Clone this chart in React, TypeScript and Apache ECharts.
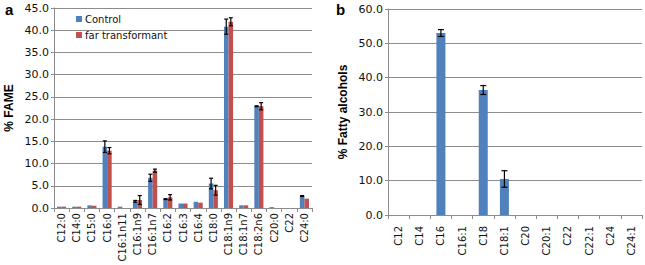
import React, { useEffect, useRef } from "react";
import * as echarts from "echarts";

const catsA = ["C12:0","C14:0","C15:0","C16:0","C16:1n11","C16:1n9","C16:1n7","C16:2","C16:3","C16:4","C18:0","C18:1n9","C18:1n7","C18:2n6","C20:0","C22","C24:0"];
const controlA = [0.3,0.3,0.6,13.8,0.3,1.5,6.8,2.0,1.0,1.4,5.5,40.8,0.6,22.9,0.2,0,2.7];
const controlErrA = [0,0,0,1.3,0,0.2,0.8,0.1,0,0,1.2,1.7,0,0.1,0,0,0.1];
const farA = [0.3,0.3,0.5,12.9,0,1.8,8.4,2.4,1.0,1.2,4.0,41.9,0.6,22.9,0,0,2.1];
const farErrA = [0,0,0,0.7,0,1.0,0.35,0.6,0,0,1.1,0.9,0,0.8,0,0,0];

const catsB = ["C12","C14","C16","C16:1","C18","C18:1","C20","C20:1","C22","C22:1","C24","C24:1"];
const alcB = [0,0,53.0,0,36.4,10.5,0,0,0,0,0,0];
const alcErrB = [0,0,1.0,0,1.3,2.4,0,0,0,0,0,0];

const ticksA = { min: 0, max: 45, interval: 5 };
const ticksB = { min: 0, max: 60, interval: 10 };

const BLUE = "#4F81BD";
const RED = "#C0504D";
const GRID = "#8c8c8c";
const FONT = "DejaVu Sans";

function errSeries(vals: number[], errs: number[], xi: number, yi: number, offset: number, cap: number) {
  return {
    type: "custom",
    xAxisIndex: xi,
    yAxisIndex: yi,
    z: 5,
    silent: true,
    data: vals.map((v, i) => [i, v, errs[i]]),
    renderItem: (params: any, api: any) => {
      const idx = api.value(0);
      const v = api.value(1);
      const e = api.value(2);
      if (!e) return null;
      const band = api.size([1, 0])[0];
      const x = api.coord([idx, v])[0] + offset * band;
      const top = api.coord([idx, v + e])[1];
      const bot = api.coord([idx, Math.max(0, v - e)])[1];
      const st = { stroke: "#000", lineWidth: 1.2 };
      return {
        type: "group",
        children: [
          { type: "line", shape: { x1: x, y1: top, x2: x, y2: bot }, style: st },
          { type: "line", shape: { x1: x - cap, y1: top, x2: x + cap, y2: top }, style: st },
          { type: "line", shape: { x1: x - cap, y1: bot, x2: x + cap, y2: bot }, style: st },
        ],
      };
    },
  };
}

function xAxisCfg(cats: string[], gi: number, margin: number) {
  return {
    type: "category",
    gridIndex: gi,
    data: cats,
    axisLine: { lineStyle: { color: GRID } },
    axisTick: { show: true, length: 4, lineStyle: { color: GRID } },
    axisLabel: { rotate: 90, fontSize: 10, fontFamily: FONT, color: "#111", margin, interval: 0 },
  };
}

function yAxisCfg(t: { min: number; max: number; interval: number }, gi: number, name: string, gap: number) {
  return {
    type: "value",
    gridIndex: gi,
    min: t.min,
    max: t.max,
    interval: t.interval,
    name,
    nameLocation: "middle",
    nameRotate: 90,
    nameGap: gap,
    nameTextStyle: { fontFamily: "Liberation Sans", fontWeight: "bold", fontSize: 12, color: "#000" },
    axisLine: { show: true, lineStyle: { color: GRID } },
    axisTick: { show: true, length: 3, lineStyle: { color: GRID } },
    splitLine: { show: true, lineStyle: { color: GRID, width: 1 } },
    axisLabel: { fontSize: 11, fontFamily: FONT, color: "#111", margin: 5, formatter: (v: number) => v.toFixed(1) },
  };
}

export default function App() {
  const ref = useRef<HTMLDivElement>(null);
  useEffect(() => {
    document.body.style.margin = "0";
    if (!ref.current) return;
    const chart = echarts.init(ref.current, undefined, { renderer: "svg" });
    chart.setOption({
      animation: false,
      backgroundColor: "#fff",
      grid: [
        { left: 54, top: 8, width: 258, height: 200 },
        { left: 388, top: 9, width: 254, height: 206 },
      ],
      legend: {
        data: ["Control", "far transformant"],
        orient: "vertical",
        left: 71,
        top: 9,
        itemWidth: 6,
        itemHeight: 6,
        itemGap: 6,
        icon: "rect",
        textStyle: { fontFamily: FONT, fontSize: 10, color: "#111", padding: [0, 0, 0, -2] },
      },
      xAxis: [xAxisCfg(catsA, 0, 5), xAxisCfg(catsB, 1, 11)],
      yAxis: [yAxisCfg(ticksA, 0, "% FAME", 39), yAxisCfg(ticksB, 1, "% Fatty alcohols", 39)],
      graphic: [
        { type: "text", left: 5, top: 2, style: { text: "a", fontFamily: "Liberation Sans", fontWeight: "bold", fontSize: 15, fill: "#000" } },
        { type: "text", left: 336, top: 2, style: { text: "b", fontFamily: "Liberation Sans", fontWeight: "bold", fontSize: 15, fill: "#000" } },
      ],
      series: [
        { name: "Control", type: "bar", xAxisIndex: 0, yAxisIndex: 0, data: controlA, itemStyle: { color: BLUE }, barGap: "0%", barCategoryGap: "40%" },
        { name: "far transformant", type: "bar", xAxisIndex: 0, yAxisIndex: 0, data: farA, itemStyle: { color: RED }, barGap: "0%", barCategoryGap: "40%" },
        errSeries(controlA, controlErrA, 0, 0, -0.15, 2),
        errSeries(farA, farErrA, 0, 0, 0.15, 2),
        { name: "Alcohols", type: "bar", xAxisIndex: 1, yAxisIndex: 1, data: alcB, itemStyle: { color: BLUE }, barWidth: 9 },
        errSeries(alcB, alcErrB, 1, 1, 0, 3),
      ],
    });
    return () => chart.dispose();
  }, []);
  return <div ref={ref} style={{ width: 645, height: 265 }} />;
}
